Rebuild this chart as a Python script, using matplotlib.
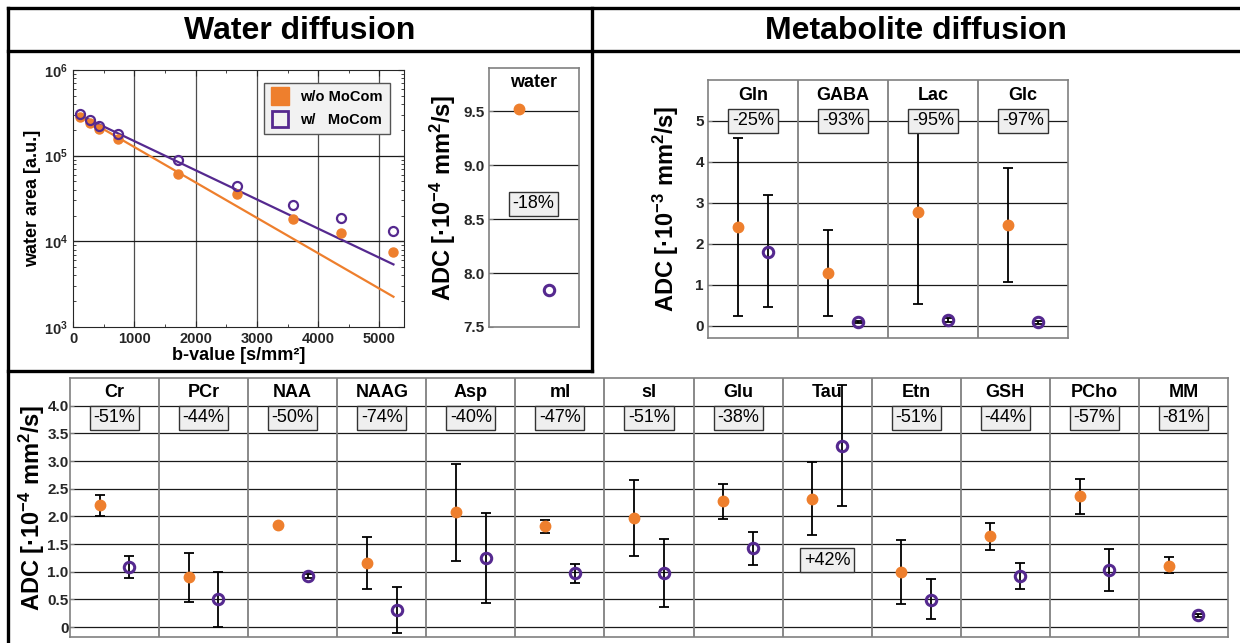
import matplotlib
matplotlib.use('Agg')
import matplotlib.pyplot as plt
import numpy as np
from matplotlib.lines import Line2D
from matplotlib.ticker import FixedLocator, LogLocator, NullFormatter, FuncFormatter

plt.rcParams['font.family'] = ['Liberation Sans', 'DejaVu Sans']
plt.rcParams['font.weight'] = 'bold'
plt.rcParams['mathtext.fontset'] = 'custom'
plt.rcParams['mathtext.rm'] = 'Liberation Sans:bold'
plt.rcParams['mathtext.bf'] = 'Liberation Sans:bold'
plt.rcParams['mathtext.default'] = 'regular'

ORANGE = '#EE7F2D'
PURPLE = '#55298F'
TXT = '#262626'

# --- water signal decay (left)
b_values = [108, 282, 428, 727, 1719, 2668, 3590, 4365, 5228]
area_wo = [2.85e5, 2.38e5, 2.04e5, 1.56e5, 6.1e4, 3.56e4, 1.83e4, 1.26e4, 7.5e3]
area_w = [3.03e5, 2.61e5, 2.20e5, 1.79e5, 8.9e4, 4.4e4, 2.69e4, 1.88e4, 1.32e4]
fit_s0 = [3.27e5, 3.24e5]          # fitted amplitude, w/o and w/ MoCom

# --- water ADC [1e-4 mm2/s]
water_adc = [9.52, 7.84]
water_pct = '-18%'

# --- metabolite ADC, top panel [1e-3 mm2/s]
met_names = ['Gln', 'GABA', 'Lac', 'Glc']
met_pct = ['-25%', '-93%', '-95%', '-97%']
met_wo = [2.41, 1.29, 2.78, 2.46]
met_wo_lo = [0.23, 0.24, 0.53, 1.07]
met_wo_hi = [4.59, 2.33, 5.00, 3.84]
met_w = [1.81, 0.09, 0.14, 0.08]
met_w_lo = [0.46, 0.06, 0.10, 0.05]
met_w_hi = [3.18, 0.12, 0.18, 0.11]

# --- metabolite ADC, bottom panel [1e-4 mm2/s]
bot_names = ['Cr', 'PCr', 'NAA', 'NAAG', 'Asp', 'mI', 'sI', 'Glu', 'Tau',
             'Etn', 'GSH', 'PCho', 'MM']
bot_pct = ['-51%', '-44%', '-50%', '-74%', '-40%', '-47%', '-51%', '-38%',
           '+42%', '-51%', '-44%', '-57%', '-81%']
bot_wo = [2.20, 0.90, 1.84, 1.16, 2.08, 1.82, 1.97, 2.28, 2.32, 1.00, 1.65, 2.37, 1.11]
bot_wo_lo = [2.01, 0.46, 1.83, 0.69, 1.19, 1.70, 1.29, 1.95, 1.67, 0.42, 1.40, 2.05, 0.97]
bot_wo_hi = [2.39, 1.33, 1.85, 1.63, 2.94, 1.94, 2.66, 2.58, 2.98, 1.57, 1.88, 2.68, 1.26]
bot_w = [1.08, 0.50, 0.92, 0.31, 1.24, 0.98, 0.97, 1.42, 3.28, 0.49, 0.92, 1.03, 0.21]
bot_w_lo = [0.89, 0.00, 0.88, -0.11, 0.44, 0.80, 0.36, 1.13, 2.18, 0.14, 0.69, 0.65, 0.18]
bot_w_hi = [1.28, 0.99, 0.96, 0.73, 2.06, 1.14, 1.59, 1.71, 4.38, 0.86, 1.16, 1.41, 0.24]

W, H = 1240, 643
fig = plt.figure(figsize=(W / 100, H / 100), dpi=100)


def px_axes(l, t, r, b):
    return fig.add_axes([l / W, 1 - b / H, (r - l) / W, (b - t) / H])


def fig_line(x0, y0, x1, y1):
    fig.add_artist(Line2D([x0 / W, x1 / W], [1 - y0 / H, 1 - y1 / H],
                          color='k', lw=2.4, solid_capstyle='projecting'))


def pct_box(ax, x, y, s):
    ax.text(x, y, s, ha='center', va='center', fontsize=13, fontweight='normal',
            color='k', zorder=6, clip_on=False,
            bbox=dict(boxstyle='square,pad=0.2', fc='#efefef', ec='#333333', lw=1))


def adc_panel(ax, ylim, yticks, yticklabels, gridvals, n):
    ax.set_xlim(0, 3 * n)
    ax.set_ylim(*ylim)
    ax.set_xticks([])
    ax.set_yticks(yticks)
    ax.set_yticklabels(yticklabels)
    ax.tick_params(axis='y', direction='in', length=3, pad=3, labelsize=11,
                   labelcolor=TXT, color='#808080')
    for g in gridvals:
        ax.axhline(g, color='#1a1a1a', lw=0.9, zorder=1)
    for i in range(1, n):
        ax.axvline(3 * i, color='#808080', lw=1.3, zorder=1)
    for s in ax.spines.values():
        s.set_color('#808080')
        s.set_linewidth(1.2)


def draw_pairs(ax, wo, wo_lo, wo_hi, w, w_lo, w_hi, ms=7.5):
    n = len(wo)
    xo = np.arange(n) * 3 + 1
    xp = np.arange(n) * 3 + 2
    wo, w = np.array(wo), np.array(w)
    ax.errorbar(xo, wo, yerr=[wo - np.array(wo_lo), np.array(wo_hi) - wo], fmt='none',
                ecolor='k', elinewidth=1.3, capsize=3.5, capthick=1.3, zorder=3)
    ax.errorbar(xp, w, yerr=[w - np.array(w_lo), np.array(w_hi) - w], fmt='none',
                ecolor='k', elinewidth=1.3, capsize=3.5, capthick=1.3, zorder=3)
    ax.plot(xo, wo, 'o', ms=ms, color=ORANGE, mec=ORANGE, zorder=4)
    ax.plot(xp, w, 'o', ms=ms, mfc='none', mec=PURPLE, mew=2.2, zorder=4)


# ---------- frame & titles
fig_line(8, 8, 1240, 8)
fig_line(8, 51, 1240, 51)
fig_line(8, 8, 8, 643)
fig_line(592, 8, 592, 371)
fig_line(8, 371, 592, 371)
fig.text(300 / W, 1 - 31 / H, 'Water diffusion', ha='center', va='center',
         fontsize=23, fontweight='bold')
fig.text(916 / W, 1 - 31 / H, 'Metabolite diffusion', ha='center', va='center',
         fontsize=23, fontweight='bold')

# ---------- water decay (log)
ax = px_axes(73, 70, 404, 327)
ax.set_yscale('log')
ax.set_xlim(0, 5400)
ax.set_ylim(1e3, 1e6)
for xv in [1000, 2000, 3000, 4000, 5000]:
    ax.axvline(xv, color='#4d4d4d', lw=0.9, zorder=1)
for yv in [1e4, 1e5]:
    ax.axhline(yv, color='#1a1a1a', lw=0.9, zorder=1)
bfit = np.array([b_values[0], b_values[-1]])
ax.plot(bfit, fit_s0[0] * np.exp(-bfit * water_adc[0] * 1e-4), color=ORANGE, lw=1.6, zorder=2)
ax.plot(bfit, fit_s0[1] * np.exp(-bfit * water_adc[1] * 1e-4), color=PURPLE, lw=1.6, zorder=2)
ax.plot(b_values, area_wo, 'o', ms=6.5, color=ORANGE, zorder=3)
ax.plot(b_values, area_w, 'o', ms=6.5, mfc='none', mec=PURPLE, mew=1.6, zorder=4)
ax.set_xticks([0, 1000, 2000, 3000, 4000, 5000])
ax.xaxis.set_minor_locator(FixedLocator(np.arange(500, 5400, 1000)))
ax.yaxis.set_major_locator(FixedLocator([1e3, 1e4, 1e5, 1e6]))
ax.yaxis.set_major_formatter(FuncFormatter(lambda v, p: r'$10^{%d}$' % round(np.log10(v))))
ax.yaxis.set_minor_locator(LogLocator(base=10, subs=np.arange(2, 10)))
ax.yaxis.set_minor_formatter(NullFormatter())
ax.tick_params(which='both', direction='in', top=True, right=True, color='#262626')
ax.tick_params(which='major', length=4, labelsize=10.5, labelcolor=TXT)
ax.tick_params(which='minor', length=2)
for s in ax.spines.values():
    s.set_color('#262626')
ax.set_xlabel('b-value [s/mm²]', fontsize=13, fontweight='bold', labelpad=1)
ax.set_ylabel('water area [a.u.]', fontsize=13, fontweight='bold', labelpad=2)
h_wo = Line2D([], [], ls='none', marker='s', ms=13, color=ORANGE)
h_w = Line2D([], [], ls='none', marker='s', ms=12, mfc='none', mec=PURPLE, mew=2)
leg = ax.legend([h_wo, h_w], ['w/o MoCom', 'w/   MoCom'], loc='upper right',
                bbox_to_anchor=(0.958, 0.95), borderaxespad=0, fontsize=10.5,
                frameon=True, fancybox=False, framealpha=1, edgecolor='#555555',
                handlelength=1.2, handletextpad=0.8, borderpad=0.5, labelspacing=0.6)
leg.get_frame().set_facecolor('#f2f2f2')

# ---------- water ADC
ax = px_axes(489, 68, 579, 327)
ax.set_xlim(0, 3)
ax.set_ylim(7.5, 9.9)
ax.set_xticks([])
ax.set_yticks([7.5, 8.0, 8.5, 9.0, 9.5])
ax.set_yticklabels(['7.5', '8.0', '8.5', '9.0', '9.5'])
ax.tick_params(axis='y', direction='in', length=3, pad=3, labelsize=11,
               labelcolor=TXT, color='#808080')
for g in [8.0, 8.5, 9.0, 9.5]:
    ax.axhline(g, color='#1a1a1a', lw=0.9, zorder=1)
for s in ax.spines.values():
    s.set_color('#808080')
    s.set_linewidth(1.2)
ax.plot([1], [water_adc[0]], 'o', ms=7.5, color=ORANGE, zorder=4)
ax.plot([2], [water_adc[1]], 'o', ms=7.5, mfc='none', mec=PURPLE, mew=2.2, zorder=4)
ax.text(1.5, 9.77, 'water', ha='center', va='center', fontsize=13, fontweight='bold')
pct_box(ax, 1.47, 8.64, water_pct)
ax.set_ylabel('ADC [·10$^{-4}$ mm$^{2}$/s]', fontsize=17, fontweight='bold', labelpad=4)

# ---------- metabolite ADC (top right)
ax = px_axes(708, 80, 1068, 338)
adc_panel(ax, (-0.3, 6.0), [0, 1, 2, 3, 4, 5], ['0', '1', '2', '3', '4', '5'],
          [0, 1, 2, 3, 4, 5], len(met_names))
draw_pairs(ax, met_wo, met_wo_lo, met_wo_hi, met_w, met_w_lo, met_w_hi)
for i, (nm, pc) in enumerate(zip(met_names, met_pct)):
    ax.text(3 * i + 1.5, 5.61, nm, ha='center', va='center', fontsize=13, fontweight='bold')
    pct_box(ax, 3 * i + 1.5, 5.0, pc)
ax.set_ylabel('ADC [·10$^{-3}$ mm$^{2}$/s]', fontsize=17, fontweight='bold', labelpad=10)

# ---------- metabolite ADC (bottom)
ax = px_axes(70, 378, 1228, 637)
bt = [0, 0.5, 1.0, 1.5, 2.0, 2.5, 3.0, 3.5, 4.0]
adc_panel(ax, (-0.18, 4.5), bt, ['0'] + ['%.1f' % v for v in bt[1:]], bt, len(bot_names))
draw_pairs(ax, bot_wo, bot_wo_lo, bot_wo_hi, bot_w, bot_w_lo, bot_w_hi)
for i, (nm, pc) in enumerate(zip(bot_names, bot_pct)):
    ax.text(3 * i + 1.5, 4.24, nm, ha='center', va='center', fontsize=13, fontweight='bold')
    if pc.startswith('+'):
        pct_box(ax, 3 * i + 1.5, 1.21, pc)
    else:
        pct_box(ax, 3 * i + 1.5, 3.78, pc)
ax.tick_params(axis='y', pad=1)
ax.set_ylabel('ADC [·10$^{-4}$ mm$^{2}$/s]', fontsize=17, fontweight='bold', labelpad=0)

fig.savefig('out.png', dpi=100)
